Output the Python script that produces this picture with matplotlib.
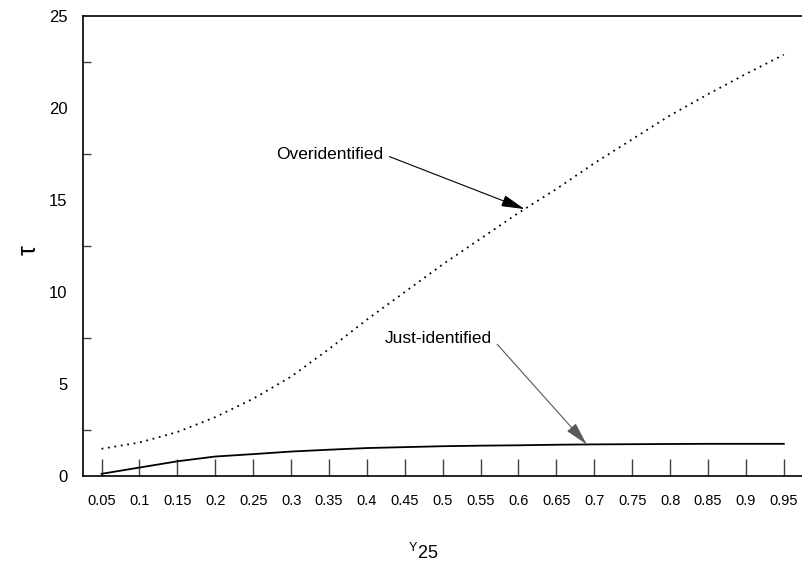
import matplotlib
matplotlib.use("Agg")
import matplotlib.pyplot as plt
import numpy as np

# Share parameter on the horizontal axis
gamma = [0.05, 0.10, 0.15, 0.20, 0.25, 0.30, 0.35, 0.40, 0.45, 0.50,
         0.55, 0.60, 0.65, 0.70, 0.75, 0.80, 0.85, 0.90, 0.95]
# Test statistic, overidentified model (dotted)
tau_over = [1.48, 1.82, 2.39, 3.20, 4.20, 5.40, 6.90, 8.50, 10.00, 11.50,
            12.90, 14.30, 15.60, 17.00, 18.30, 19.60, 20.75, 21.85, 22.90]
# Test statistic, just-identified model (solid)
tau_just = [0.12, 0.46, 0.80, 1.06, 1.19, 1.33, 1.43, 1.52, 1.57, 1.62,
            1.65, 1.67, 1.70, 1.72, 1.73, 1.74, 1.75, 1.75, 1.75]

xtick_labels = ["0.05", "0.1", "0.15", "0.2", "0.25", "0.3", "0.35", "0.4",
                "0.45", "0.5", "0.55", "0.6", "0.65", "0.7", "0.75", "0.8",
                "0.85", "0.9", "0.95"]
ytick_values = [0, 5, 10, 15, 20, 25]
yminor_values = [2.5, 7.5, 12.5, 17.5, 22.5]

over_point = 0.608
just_point = 0.69

plt.rcParams["font.family"] = ["Liberation Sans", "DejaVu Sans"]

fig = plt.figure(figsize=(8.02, 5.83), dpi=100)
ax = fig.add_axes([0.103, 0.1835, 0.897, 0.789])

ax.plot(gamma, tau_over, color="black", lw=1.3, linestyle=(0, (1.0, 2.6)),
        solid_capstyle="round")
ax.plot(gamma, tau_just, color="black", lw=1.3)

ax.set_xlim(0.025, 0.974)
ax.set_ylim(0, 25)

ax.spines["right"].set_visible(False)
for side in ("left", "top", "bottom"):
    ax.spines[side].set_linewidth(1.2)
    ax.spines[side].set_color("black")

ax.set_xticks(gamma)
ax.set_xticklabels(xtick_labels)
ax.tick_params(axis="x", direction="in", length=12, width=1.0, color="0.25",
               pad=13, labelsize=10.5)

ax.set_yticks(ytick_values)
ax.set_yticks(yminor_values, minor=True)
ax.tick_params(axis="y", which="major", length=0, pad=11, labelsize=12)
ax.tick_params(axis="y", which="minor", direction="in", length=6,
               width=1.0, color="0.25")

ax.set_ylabel("τ", fontsize=18, rotation=90, va="center", ha="center")
ax.yaxis.set_label_coords(-0.075, 0.491)
ax.set_xlabel(r"$\mathregular{^{Y}25}$", fontsize=13, va="center", ha="center")
ax.xaxis.set_label_coords(0.474, -0.167)

arrow_kw = dict(arrowstyle="-|>,head_length=1.2,head_width=0.3",
                mutation_scale=12, shrinkA=3, shrinkB=0, relpos=(1.0, 0.5))

ax.annotate("Overidentified",
            xy=(over_point, np.interp(over_point, gamma, tau_over)),
            xytext=(0.421, 17.5), ha="right", va="center", fontsize=12.5,
            arrowprops=dict(color="black", lw=0.8, **arrow_kw))

ax.annotate("Just-identified",
            xy=(just_point, np.interp(just_point, gamma, tau_just)),
            xytext=(0.5645, 7.5), ha="right", va="center", fontsize=12.5,
            arrowprops=dict(color="0.35", lw=0.8, **arrow_kw))

fig.savefig("out.png", dpi=100)
